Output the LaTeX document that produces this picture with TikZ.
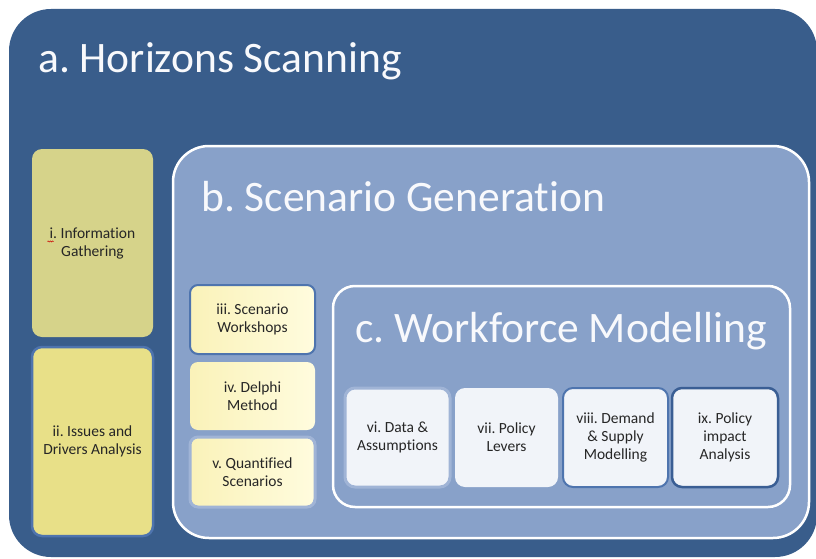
\documentclass[tikz,border=0pt]{standalone}
\usepackage{fontspec}
\setmainfont{Carlito}[Ligatures={NoCommon}]
\frenchspacing
\usetikzlibrary{decorations.pathmorphing}
\definecolor{outerblue}{RGB}{57,93,139}
\definecolor{midblue}{RGB}{136,161,201}
\definecolor{titlewhite}{RGB}{248,249,252}
\definecolor{txt}{RGB}{38,38,38}
\definecolor{olive}{RGB}{214,211,138}
\definecolor{yel}{RGB}{232,224,136}
\definecolor{creamA}{RGB}{250,242,185}
\definecolor{creamB}{RGB}{255,252,222}
\definecolor{paleA}{RGB}{241,244,249}
\definecolor{edgeLight}{RGB}{160,180,214}
\definecolor{edgeMid}{RGB}{78,116,174}
\definecolor{edgeDark}{RGB}{58,94,148}
\newcommand\boxfont{\fontsize{15.5}{18}\selectfont}
\newcommand\titlefont{\fontsize{43.5}{43.5}\selectfont}
\begin{document}
\begin{tikzpicture}[x=1pt,y=-1pt,
  container/.style={rectangle, inner sep=0pt},
  stepbox/.style={rectangle, rounded corners=10pt, inner sep=0pt, align=center, text=txt, font=\boxfont},
  methodbox/.style={stepbox, rounded corners=8pt, left color=creamA, right color=creamB, minimum width=125pt},
  modelbox/.style={stepbox, fill=paleA, minimum height=99pt},
  titletext/.style={anchor=base west, inner sep=0pt, text=titlewhite, font=\titlefont}]
\useasboundingbox (0,0) rectangle (816,559);
\fill[white] (0,0) rectangle (816,559);
% containers
\node[container, fill=outerblue, rounded corners=42pt, minimum width=808pt, minimum height=548pt] (a) at (413,283) {};
\node[container, fill=midblue, draw=white, line width=2.5pt, rounded corners=36pt, minimum width=636pt, minimum height=392pt] (b) at (491,342) {};
\node[container, fill=midblue, draw=white, line width=2.5pt, rounded corners=22pt, minimum width=457pt, minimum height=221pt] (c) at (561.5,396.5) {};
% titles
\node[titletext] (ta) at (38,73) {a. Horizons Scanning};
\node[titletext] (tb) at (201,211) {b. Scenario Generation};
\node[titletext] (tc) at (355,342) {c. Workforce Modelling};
% horizon scanning boxes
\node[stepbox, fill=olive, minimum width=121pt, minimum height=188pt] (i) at (92.5,243) {i. Information\\Gathering};
\node[stepbox, fill=yel, draw=edgeMid, line width=2.5pt, minimum width=121pt, minimum height=189pt] (ii) at (92.5,441.5) {ii. Issues and\\Drivers Analysis};
\draw[red!80!black, line width=0.5pt, decorate, decoration={snake, amplitude=0.6pt, segment length=2.2pt}] (47.5,241.5) -- (53.5,241.5);
% scenario boxes
\node[methodbox, draw=edgeMid, line width=2pt, minimum height=69pt] (iii) at (252.5,319.5) {iii. Scenario\\Workshops};
\node[methodbox, minimum height=68pt] (iv) at (252.5,396) {iv. Delphi\\Method};
\node[methodbox, draw=edgeLight, line width=3pt, minimum height=70pt] (v) at (252.5,472) {v. Quantified\\Scenarios};
% modelling boxes
\node[modelbox, draw=edgeLight, line width=3pt, minimum width=105pt] (vi) at (397.5,437.5) {vi. Data \&\\Assumptions};
\node[modelbox, minimum width=103pt] (vii) at (506.5,437.5) {vii. Policy\\Levers};
\node[modelbox, draw=edgeMid, line width=2pt, minimum width=105pt] (viii) at (615.5,437.5) {viii. Demand\\\& Supply\\Modelling};
\node[modelbox, draw=edgeDark, line width=2.5pt, minimum width=106pt] (ix) at (725,437.5) {ix. Policy\\impact\\Analysis};
\end{tikzpicture}
\end{document}
